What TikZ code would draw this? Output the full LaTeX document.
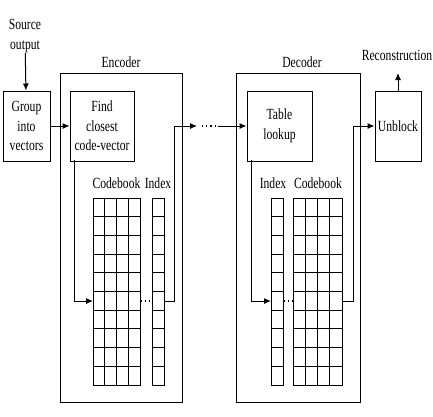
\documentclass[tikz,border=0pt]{standalone}
\usepackage{fontspec}
\setmainfont{Liberation Serif}[FakeStretch=0.75]
\usetikzlibrary{arrows.meta}
\begin{document}
\begin{tikzpicture}[x=1pt,y=-1pt,line width=1pt,
  txt/.style={font=\fontsize{15.5}{19.5}\selectfont,inner sep=0pt,align=center},
  box/.style={draw,txt,minimum height=70pt},
  frame/.style={draw,minimum height=329pt,inner sep=0pt},
  tab/.style={draw,line width=1pt,minimum height=187pt,inner sep=0pt},
  arr/.style={-{Latex[length=7pt,width=6pt]}},
  dots/.style={line width=1.2pt,dash pattern=on 1.2pt off 3pt},
  gridln/.style={line width=0.9pt}]
\useasboundingbox (0,0) rectangle (433,416);
% frames
\node[frame,minimum width=122pt] (enc) at (121,237.5) {};
\node[frame,minimum width=124pt] (dec) at (298,237.5) {};
\node[txt] (encl) at (121,62) {Encoder};
\node[txt] (decl) at (302,62) {Decoder};
% boxes
\node[box,minimum width=47pt] (group) at (26.5,126) {Group\\into\\vectors};
\node[box,minimum width=64pt] (find) at (102,126) {Find\\closest\\code-vector};
\node[box,minimum width=65pt] (table) at (279.5,126) {Table\\lookup};
\node[box,minimum width=46pt] (unblock) at (398,126) {Unblock};
\node[txt] (src) at (25,36) {Source\\output};
\node[txt] (rec) at (397,55) {Reconstruction};
% tables
\node[tab,minimum width=47pt] (cbE) at (116.5,291.5) {};
\node[tab,minimum width=12pt] (ixE) at (158,291.5) {};
\node[tab,minimum width=12pt] (ixD) at (277,291.5) {};
\node[tab,minimum width=49pt] (cbD) at (317.5,291.5) {};
\node[txt] (cbEl) at (116.5,183) {Codebook};
\node[txt] (ixEl) at (158,183) {Index};
\node[txt] (ixDl) at (273,183) {Index};
\node[txt] (cbDl) at (318,183) {Codebook};
% grid lines
\foreach \r in {1,...,9}{
  \draw[gridln] (93,198+18.7*\r) -- (140,198+18.7*\r);
  \draw[gridln] (152,198+18.7*\r) -- (164,198+18.7*\r);
  \draw[gridln] (271,198+18.7*\r) -- (283,198+18.7*\r);
  \draw[gridln] (293,198+18.7*\r) -- (342,198+18.7*\r);
}
\foreach \c in {1,2,3}{
  \draw[gridln] (93+11.75*\c,198) -- (93+11.75*\c,385);
  \draw[gridln] (293+12.25*\c,198) -- (293+12.25*\c,385);
}
% coordinates
\coordinate (fE) at (74,160);
\coordinate (rE) at (93,301);
\coordinate (oE) at (164,301);
\coordinate (uE) at (174,126);
\coordinate (eo) at (197,126);
\coordinate (d1) at (202,126);
\coordinate (d2) at (215,126);
\coordinate (di) at (218,126);
\coordinate (fD) at (251,160);
\coordinate (rD) at (271,301);
\coordinate (oD) at (342,301);
\coordinate (uD) at (353,126);
\coordinate (rt) at (398,73);
% connectors
\draw[arr] (src) -- (group);
\draw[arr] (group) -- (find);
\draw[arr] (fE) |- (rE);
\draw[dots] (140.5,301) -- (151.5,301);
\draw[arr] (oE) -| (uE) -- (eo);
\draw[dots] (d1) -- (d2);
\draw[arr] (di) -- (table);
\draw[arr] (fD) |- (rD);
\draw[dots] (283.5,301) -- (292.5,301);
\draw[arr] (oD) -| (uD) -- (unblock);
\draw[arr] (unblock) -- (rt);
\end{tikzpicture}
\end{document}
